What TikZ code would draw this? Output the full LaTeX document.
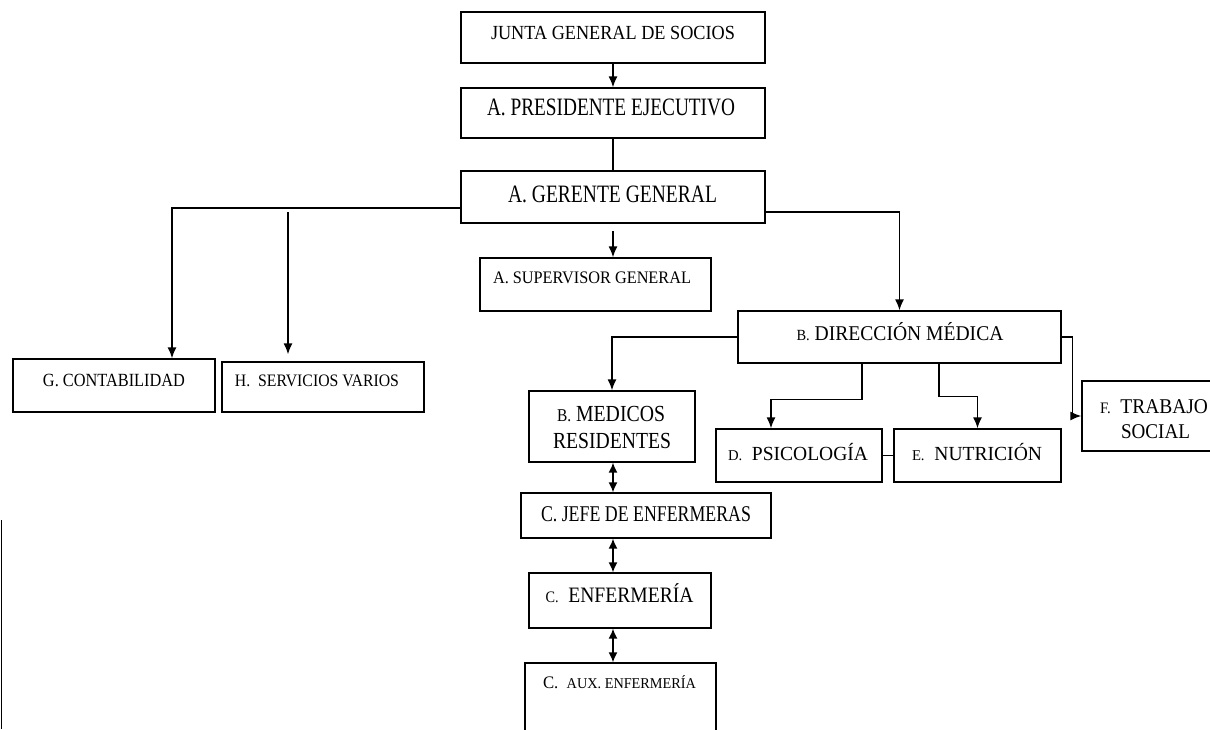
\documentclass[tikz,border=0pt]{standalone}
\usepackage{fontspec}
\setmainfont{Liberation Serif}
\usetikzlibrary{arrows.meta}
% Text squeezed horizontally to a given width, keeping its natural height
\newcommand{\sqz}[3]{\resizebox{#1pt}{\height}{\fontsize{#2pt}{#2pt}\selectfont #3}}
\newcommand{\sm}[2]{{\fontsize{#1pt}{#1pt}\selectfont #2}}
\begin{document}
\begin{tikzpicture}[x=1pt,y=-1pt,
  unit/.style={draw,line width=1.3pt,inner sep=0pt,minimum width=#1},
  lbl/.style={anchor=base,inner sep=0pt},
  link/.style={line width=1.5pt},
  arr/.style={line width=1.5pt,-{Latex[length=11pt,width=9pt]}},
  twoway/.style={line width=1.5pt,{Latex[length=10pt,width=9pt]}-{Latex[length=10pt,width=9pt]}}]
\clip (0,0) rectangle (1210,729);
\fill[white] (0,0) rectangle (1210,729);

% boxes
\node[unit=304pt,minimum height=51pt] (junta) at (613,37.5) {};
\node[unit=304pt,minimum height=50pt] (pres) at (613,113) {};
\node[unit=304pt,minimum height=52pt] (ger) at (613,197) {};
\node[unit=231pt,minimum height=53pt] (sup) at (595.5,284.5) {};
\node[unit=202pt,minimum height=53pt] (cont) at (114,385.5) {};
\node[unit=202pt,minimum height=50pt] (serv) at (323,387) {};
\node[unit=323pt,minimum height=52pt] (dir) at (899.5,337) {};
\node[unit=166pt,minimum height=71pt] (med) at (612,426.5) {};
\node[unit=166pt,minimum height=53pt] (psi) at (799,455.5) {};
\node[unit=167pt,minimum height=53pt] (nut) at (977.5,455.5) {};
\node[unit=140pt,minimum height=70pt] (trab) at (1152,416) {};
\node[unit=250pt,minimum height=45pt] (jefe) at (646,515.5) {};
\node[unit=182pt,minimum height=55pt] (enf) at (620,600.5) {};
\node[unit=191pt,minimum height=80pt] (aux) at (620.5,703) {};

% texts
\node[lbl] (tjunta) at (613,39) {\sqz{244}{20}{JUNTA GENERAL DE SOCIOS}};
\node[lbl] (tpres) at (611,115) {\sqz{248}{25}{A. PRESIDENTE EJECUTIVO}};
\node[lbl] (tger) at (612.5,202) {\sqz{209}{25}{A. GERENTE GENERAL}};
\node[lbl] (tsup) at (592,283) {\sqz{198}{17.6}{A. SUPERVISOR GENERAL}};
\node[lbl] (tcont) at (114,386) {\sqz{142}{18.6}{G. CONTABILIDAD}};
\node[lbl] (tserv) at (317,386) {\sqz{164}{17.5}{H.\ \ SERVICIOS VARIOS}};
\node[lbl] (tdir) at (900,340) {\sqz{207}{21}{\sm{15.5}{B.} DIRECCIÓN MÉDICA}};
\node[lbl] (tpsi) at (798,460) {\sqz{140}{20}{\sm{15}{D.}\ \ PSICOLOGÍA}};
\node[lbl] (tnut) at (977,460) {\sqz{130}{20}{\sm{15}{E.}\ \ NUTRICIÓN}};
\node[lbl] (ttrab1) at (1154,413) {\sqz{108}{21}{\sm{16}{F.}\ \ TRABAJO}};
\node[lbl] (ttrab2) at (1155.5,438) {\sqz{69}{21}{SOCIAL}};
\node[lbl] (tmed1) at (611,421.5) {\sqz{108}{23}{\sm{18}{B.} MEDICOS}};
\node[lbl] (tmed2) at (612,448) {\sqz{118}{23}{RESIDENTES}};
\node[lbl] (tjefe) at (646,521.5) {\sqz{210}{22.5}{C. JEFE DE ENFERMERAS}};
\node[lbl] (tenf) at (619.5,602.5) {\sqz{148}{22}{\sm{16}{C.}\ \ ENFERMERÍA}};
\node[lbl] (taux) at (619.5,688) {\sqz{153}{17.6}{C.\ \ \sm{15}{AUX. ENFERMERÍA}}};

% free ends of the short drops
\coordinate (servtap) at (288,212);
\coordinate (suptap) at (613,231);

% connectors
\draw[arr] (junta.south) -- (pres.north);
\draw[link] (pres.south) -- (ger.north);
\draw[arr] ([yshift=-11pt]ger.west) -| ([xshift=58pt]cont.north);
\draw[arr] (servtap) -- ([xshift=-35pt,yshift=7pt]serv.north);
\draw[arr] ([yshift=-15pt]ger.east) -| (dir.north);
\draw[arr] (suptap) -- ([xshift=17.5pt]sup.north);
\draw[arr] (dir.west) -| (med.north);
\draw[arr] ([xshift=-37.5pt]dir.south) -- ++(0,36) -| ([xshift=-28pt]psi.north);
\draw[arr] ([xshift=39.5pt]dir.south) -- ++(0,33) -| (nut.north);
\draw[arr] (dir.east) -- ++(11,0) |- (trab.west);
\draw[link] (psi.east) -- (nut.west);
\draw[twoway] ([xshift=1pt]med.south) -- ([xshift=1pt]med.south |- jefe.north);
\draw[twoway] ([xshift=-7pt]enf.north |- jefe.south) -- ([xshift=-7pt]enf.north);
\draw[twoway] ([xshift=-7pt]enf.south) -- ([xshift=-7pt]enf.south |- aux.north);

% edge of a frame on the far left
\coordinate (edgetop) at (1.5,520);
\coordinate (edgebot) at (1.5,729);
\draw[line width=1.5pt] (edgetop) -- (edgebot);
\end{tikzpicture}
\end{document}
